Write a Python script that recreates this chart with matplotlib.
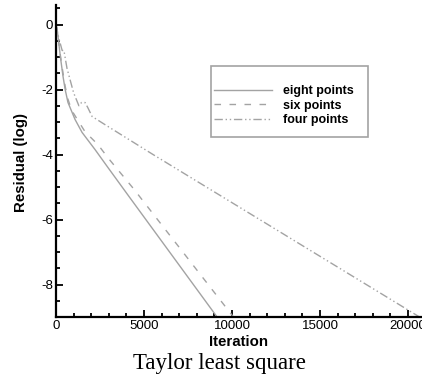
import matplotlib.pyplot as plt
from matplotlib.ticker import MultipleLocator
from matplotlib.patches import Rectangle

plt.rcParams['font.family'] = ['Liberation Sans', 'DejaVu Sans']
plt.rcParams['axes.unicode_minus'] = False

# residual history (log10) for each stencil size
iter_eight = [0, 100, 250, 400, 520, 680, 1080, 1480, 2220, 2950, 4090, 9150]
res_eight = [0, -0.3, -1.0, -1.6, -2.0, -2.4, -2.92, -3.32, -3.85, -4.4, -5.25, -9.0]

iter_six = [0, 100, 250, 400, 520, 680, 900, 1650, 2390, 2950, 4400, 10080]
res_six = [0, -0.3, -0.95, -1.5, -1.9, -2.3, -2.65, -3.3, -3.7, -4.1, -5.05, -9.0]

iter_four = [0, 150, 350, 450, 625, 1000, 1300, 1450, 1650, 1800, 2050, 2780, 5510, 20650]
res_four = [0, -0.4, -0.8, -0.8, -1.35, -2.1, -2.5, -2.4, -2.4, -2.55, -2.83, -3.08, -4.0, -9.0]

gray = '#a3a3a3'

fig = plt.figure(figsize=(4.22, 3.76), dpi=100)
ax = fig.add_axes([56 / 422, 1 - 317 / 376, 1 - 56 / 422, (317 - 5) / 376])

ax.plot(iter_eight, res_eight, '-', color=gray, lw=1.0, label='eight points')
ax.plot(iter_six, res_six, color=gray, lw=1.0, dashes=(4.7, 6.1), label='six points')
ax.plot(iter_four, res_four, color=gray, lw=1.0,
        dashes=(6, 2, 1, 2, 1, 2), label='four points')

ax.set_xlim(0, 20790)
ax.set_ylim(-9, 0.6)
ax.xaxis.set_major_locator(MultipleLocator(5000))
ax.xaxis.set_minor_locator(MultipleLocator(1000))
ax.yaxis.set_major_locator(MultipleLocator(2))
ax.yaxis.set_minor_locator(MultipleLocator(0.5))
ax.tick_params(which='both', direction='in', width=1.3, labelsize=9.5, pad=2,
               top=False, right=False)
ax.tick_params(which='major', length=5)
ax.tick_params(which='minor', length=3)
for s in ['top', 'right']:
    ax.spines[s].set_visible(False)
for s in ['left', 'bottom']:
    ax.spines[s].set_linewidth(1.6)

ax.set_xlabel('Iteration', fontsize=10.8, fontweight='bold', labelpad=2)
ax.yaxis.set_label_coords(21 / 422, 0.5, transform=fig.transFigure)
ax.set_ylabel('Residual (log)', fontsize=10.8, fontweight='bold')
ax.yaxis.label.set_va('center')
ax.yaxis.label.set_y(1 - 162 / 376)

# legend box drawn by hand, entries placed inside it
fig.patches.append(Rectangle((211 / 422, 1 - 137 / 376), 157 / 422, 71 / 376,
                             transform=fig.transFigure, fill=False,
                             edgecolor=gray, lw=1.2))
ax.legend(loc='upper left', bbox_to_anchor=(214 / 422, 1 - 85 / 376),
          bbox_transform=fig.transFigure, frameon=False, borderpad=0,
          borderaxespad=0, prop={'weight': 'bold', 'size': 9},
          handlelength=4.6, handletextpad=0.95, labelspacing=0.2)

fig.text(219 / 422, 1 - 363 / 376, 'Taylor least square', ha='center', va='center',
         fontsize=16.5, family='Liberation Serif')

fig.savefig('out.png', dpi=100)
